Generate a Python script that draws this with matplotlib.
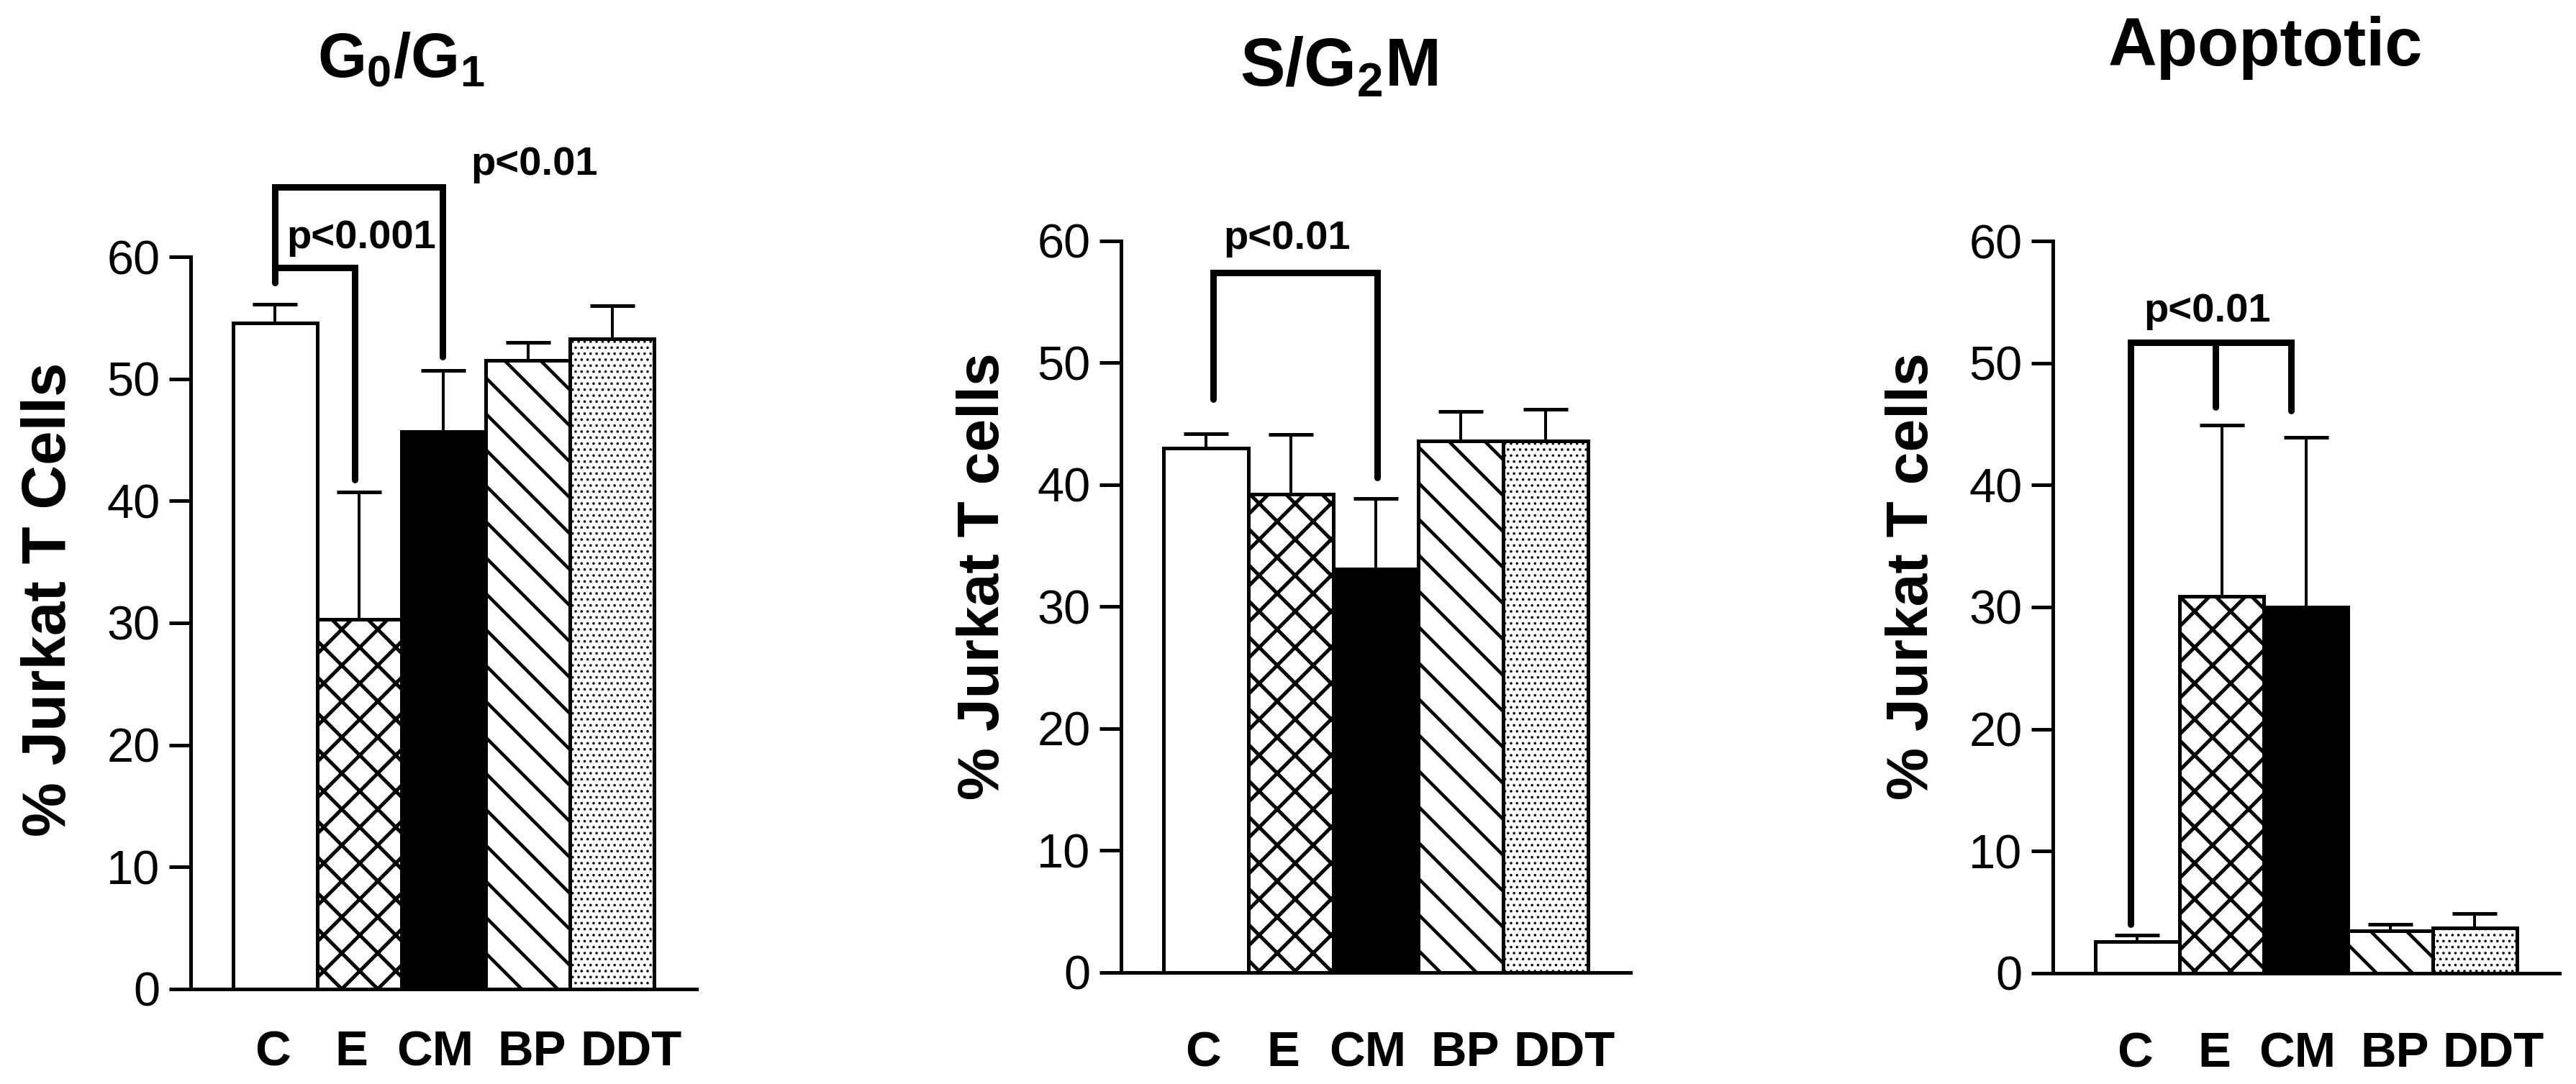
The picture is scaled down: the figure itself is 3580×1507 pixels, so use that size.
import matplotlib
matplotlib.use('Agg')
import matplotlib.pyplot as plt
from matplotlib import font_manager


# ----------------------------------------------------------------------------------
# Data (% Jurkat T cells, mean and upper SD)
# ----------------------------------------------------------------------------------
categories = ['C', 'E', 'CM', 'BP', 'DDT']

g0g1_mean = [54.6, 30.3, 45.7, 51.5, 53.3]
g0g1_err = [1.5, 10.4, 5.0, 1.5, 2.7]

sg2m_mean = [43.0, 39.2, 33.1, 43.6, 43.6]
sg2m_err = [1.2, 4.9, 5.8, 2.4, 2.6]

apop_mean = [2.6, 30.9, 30.0, 3.5, 3.7]
apop_err = [0.5, 14.0, 13.9, 0.5, 1.2]

yticks = [0, 10, 20, 30, 40, 50, 60]

# where the category labels sit (they are not exactly under the bars)
label_pos = [-0.03, 0.91, 1.90, 3.05, 4.22]

# significance brackets: list of polylines (x, y in data units) and p-value labels
g0g1_brackets = [([0.0, 0.0, 1.99, 1.99], [57.9, 65.7, 65.7, 51.8]),
                 ([0.0, 0.95, 0.95], [59.1, 59.1, 41.7])]
g0g1_ptext = [(0.14, 60.7, 'p<0.001'), (2.32, 66.7, 'p<0.01')]

sg2m_brackets = [([0.085, 0.085, 2.02, 2.02], [47.0, 57.4, 57.4, 40.6])]
sg2m_ptext = [(0.21, 59.35, 'p<0.01')]

apop_brackets = [([-0.08, -0.08, 1.82, 1.82], [4.0, 51.7, 51.7, 46.1]),
                 ([0.93, 0.93], [51.7, 46.4])]
apop_ptext = [(0.08, 53.4, 'p<0.01')]


# ----------------------------------------------------------------------------------
# Styling
# ----------------------------------------------------------------------------------
DPI = 150
plt.rcParams['font.family'] = ['Liberation Sans', 'DejaVu Sans']
plt.rcParams['mathtext.fontset'] = 'custom'
plt.rcParams['mathtext.bf'] = 'Liberation Sans:bold'
plt.rcParams['mathtext.rm'] = 'Liberation Sans'
plt.rcParams['hatch.color'] = 'black'

names = {f.name for f in font_manager.fontManager.ttflist}
narrow = 'Liberation Sans Narrow' if 'Liberation Sans Narrow' in names else 'Liberation Sans'

# face colour, hatch, hatch linewidth for C, E, CM, BP, DDT
bar_styles = [('white', None, 1.0),
              ('white', 'x', 2.4),
              ('black', None, 1.0),
              ('white', '\\', 2.2),
              ('white', '...', 0.9)]


def draw_panel(ax, means, errs, brackets, ptexts, tick_font, xpad):
    x = list(range(len(categories)))
    for i in x:
        fc, hatch, hlw = bar_styles[i]
        with plt.rc_context({'hatch.linewidth': hlw}):
            b = ax.bar(i, means[i], width=1.0, color=fc, edgecolor='black',
                       linewidth=2.4, hatch=hatch, zorder=2)
        if hasattr(b[0], 'set_hatch_linewidth'):
            b[0].set_hatch_linewidth(hlw)
    ax.errorbar(x, means, yerr=[[0] * len(errs), errs], fmt='none', ecolor='black',
                elinewidth=1.9, capsize=15, capthick=2.4, zorder=3)

    for xs, ys in brackets:
        ax.plot(xs, ys, color='black', lw=4.3, solid_capstyle='round',
                solid_joinstyle='miter', clip_on=False, zorder=4)
    for tx, ty, s in ptexts:
        ax.text(tx, ty, s, fontsize=27, fontweight='bold', ha='left', va='baseline')

    ax.set_xlim(-1.0, 5.0)
    ax.set_ylim(0, 60)
    ax.set_yticks(yticks)
    ax.set_yticklabels([str(v) for v in yticks], fontsize=32, family=tick_font)
    ax.set_xticks(label_pos)
    ax.set_xticklabels(categories, fontsize=33, fontweight='bold')
    ax.tick_params(axis='y', length=14.4, width=2.4, pad=6, direction='out')
    ax.tick_params(axis='x', length=0, pad=xpad)
    for side in ['top', 'right']:
        ax.spines[side].set_visible(False)
    for side in ['left', 'bottom']:
        ax.spines[side].set_linewidth(2.4)


fig = plt.figure(figsize=(3580 / DPI, 1507 / DPI), dpi=DPI)

ax1 = fig.add_axes([0.0740, 0.0876, 0.1964, 0.6755])
ax2 = fig.add_axes([0.4352, 0.1029, 0.1978, 0.6749])
ax3 = fig.add_axes([0.7969, 0.1022, 0.1966, 0.6755])

draw_panel(ax1, g0g1_mean, g0g1_err, g0g1_brackets, g0g1_ptext, narrow, 27)
draw_panel(ax2, sg2m_mean, sg2m_err, sg2m_brackets, sg2m_ptext, 'Liberation Sans', 38.5)
draw_panel(ax3, apop_mean, apop_err, apop_brackets, apop_ptext, 'Liberation Sans', 38.5)

# titles
fig.text(0.1556, 0.9283, r'$\mathbf{G_0/G_1}$', fontsize=42, ha='center', va='baseline')
fig.text(0.5196, 0.921, r'$\mathbf{S/G_2M}$', fontsize=45, ha='center', va='baseline')
fig.text(0.8793, 0.9396, 'Apoptotic', fontsize=45, fontweight='bold', ha='center', va='baseline')

# y labels
fig.text(69 / 3580, 1 - 833 / 1507, '% Jurkat T Cells', fontsize=41, fontweight='bold',
         rotation=90, ha='center', va='center')
fig.text(1367 / 3580, 1 - 801 / 1507, '% Jurkat T cells', fontsize=39.5, fontweight='bold',
         rotation=90, ha='center', va='center')
fig.text(2658 / 3580, 1 - 801 / 1507, '% Jurkat T cells', fontsize=39.5, fontweight='bold',
         rotation=90, ha='center', va='center')

fig.savefig('out.png', dpi=DPI, facecolor='white')
